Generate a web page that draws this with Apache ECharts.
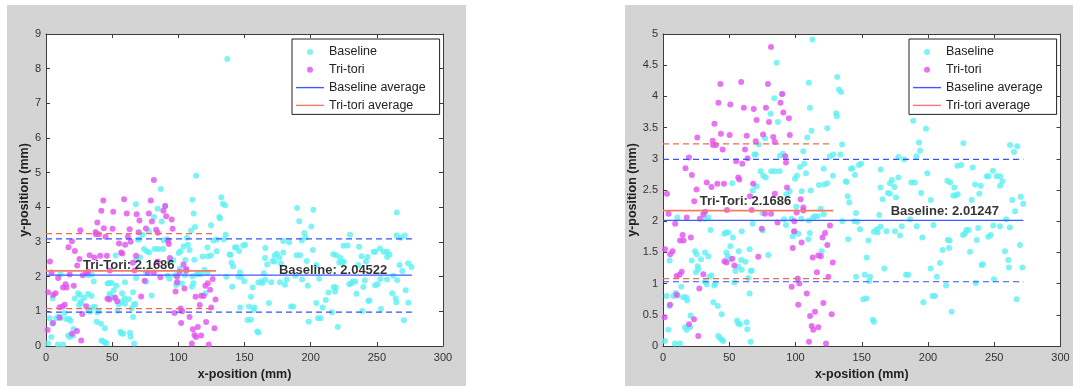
<!DOCTYPE html>
<html><head><meta charset="utf-8">
<script src="https://cdn.jsdelivr.net/npm/echarts@6/dist/echarts.min.js"></script>
<style>
html,body{margin:0;padding:0;background:#fff;}
#wrap{position:relative;width:1073px;height:386px;overflow:hidden;}
.panel{position:absolute;background:#d4d4d4;}
#c{position:absolute;left:0;top:0;width:1073px;height:386px;}
</style>
</head><body>
<div id="wrap">
<div class="panel" style="left:7px;top:5px;width:459px;height:381px;"></div>
<div class="panel" style="left:625px;top:5px;width:448px;height:381px;"></div>
<div id="c"></div>
</div>
<script>
// ---------- data ----------
const xTicks = [0, 50, 100, 150, 200, 250, 300];
const leftYTicks = [0, 1, 2, 3, 4, 5, 6, 7, 8, 9];
const rightYTicks = [0, 0.5, 1, 1.5, 2, 2.5, 3, 3.5, 4, 4.5, 5];
const legendNames = ['Baseline', 'Tri-tori', 'Baseline average', 'Tri-tori average'];

const triTori = [
[81.5,4.79],[59.0,4.23],[43.3,4.20],[79.2,4.20],[90.1,4.04],[41.8,3.90],[50.8,3.87],[61.0,3.82],[68.5,3.80],[77.7,3.82],[88.7,3.90],[90.8,3.74],[70.6,3.62],[80.0,3.59],[95.0,3.65],[38.8,3.56],[43.7,3.40],[50.3,3.38],[63.2,3.37],[75.5,3.39],[83.2,3.35],[95.7,3.38],[25.9,3.34],[37.5,3.29],[40.0,3.22],[37.7,3.22],[45.0,3.15],[70.0,3.28],[84.4,3.27],[61.9,3.15],[19.6,3.02],[55.2,2.96],[63.9,3.01],[59.8,2.92],[92.3,3.04],[92.8,2.94],[17.0,2.85],[21.8,2.74],[33.0,2.62],[41.0,2.60],[46.0,2.60],[36.6,2.55],[56.8,2.70],[57.6,2.67],[68.0,2.60],[25.3,2.51],[93.6,2.54],[3.0,2.44],[65.6,2.40],[84.4,2.44],[103.9,2.35],[23.6,2.32],[48.2,2.18],[66.9,2.18],[105.9,2.22],[105.9,2.17],[100.9,2.14],[81.5,2.12],[77.0,2.12],[31.8,2.15],[30.4,2.11],[4.2,2.12],[17.9,2.06],[27.8,2.04],[86.4,1.98],[99.1,2.00],[1.5,1.55],[9.2,1.96],[12.9,1.69],[15.5,1.69],[14.8,1.78],[21.0,1.74],[7.2,1.52],[5.4,1.47],[97.9,1.57],[99.0,1.84],[104.6,1.66],[120.4,1.74],[122.3,1.81],[126.0,1.93],[119.1,1.44],[117.2,1.45],[113.0,1.42],[124.0,1.62],[128.1,1.34],[74.5,1.88],[71.9,1.43],[52.3,1.40],[46.4,1.36],[47.9,1.34],[53.8,1.29],[14.1,1.19],[30.4,1.15],[10.3,1.12],[12.5,1.14],[124.8,1.11],[101.7,1.08],[102.9,1.00],[97.1,0.95],[27.4,0.92],[116.2,1.18],[108.5,0.84],[10.3,0.82],[5.3,0.66],[102.1,0.66],[121.0,0.69],[111.0,0.48],[114.7,0.55],[127.3,0.51],[1.2,0.46],[23.4,0.43],[19.6,0.35],[112.2,0.32],[117.2,0.30],[113.4,0.26],[26.6,0.16],[110.2,0.07],[123.0,0.04]
];

// Baseline points
const baselineRight = [
[112.8,4.91],[85.8,4.54],[110.0,4.22],[131.5,4.31],[132.8,4.11],[134.4,4.07],[84.0,3.97],[89.6,4.04],[110.9,3.82],[81.2,3.72],[86.7,3.59],[130.7,3.73],[131.1,3.68],[124.0,3.49],[112.1,3.45],[108.9,3.34],[77.0,3.33],[72.2,3.23],[135.1,3.23],
[105.9,3.12],[126.0,3.04],[128.5,3.07],[133.8,3.07],[90.5,3.08],[88.3,3.05],[68.9,3.07],[70.0,3.07],
[99.6,2.68],[101.1,2.73],[103.4,2.87],[106.6,2.92],[107.9,2.77],[121.3,2.84],[128.3,2.73],[52.3,2.61],
[73.7,2.80],[75.7,2.73],[77.5,2.70],[81.7,2.80],[84.5,2.80],[88.0,2.80],
[70.7,2.56],[67.7,2.49],[95.6,2.48],[104.7,2.48],[111.5,2.49],[117.7,2.58],[121.7,2.59],[124.0,2.61],[137.9,2.64],[138.7,2.63],[139.4,2.40],[140.6,2.30],
[93.1,2.43],[100.5,2.23],[119.0,2.20],[113.4,2.06],[114.7,2.08],[116.8,2.08],[121.3,2.11],[104.4,2.04],[110.0,2.01],[97.1,2.04],[91.3,2.03],[92.8,1.94],[135.4,2.00],
[110.8,1.81],[109.7,1.71],[119.8,1.52],[102.1,1.80],[97.9,1.76],[98.9,1.83],[79.5,1.46],[75.2,1.85],[67.7,1.96],[75.1,2.13],[65.4,1.55],[62.3,1.35],[59.0,1.38],[57.2,1.52],[59.4,1.84],[52.8,1.74],[50.8,1.60],[47.8,1.50],[48.8,1.44],[46.3,1.80],[47.5,1.82],[49.3,1.82],[54.6,1.20],[56.8,1.27],[59.4,1.22],[66.2,1.20],[67.0,1.21],[53.8,1.02],[64.4,1.09],[50.6,1.39],
[35.9,1.86],[34.2,2.06],[31.7,2.04],[10.8,2.06],[24.2,1.52],[25.4,1.47],[31.7,1.50],[34.2,1.44],[28.7,1.39],[21.7,1.37],[26.2,1.28],[26.6,1.23],[24.9,1.18],[34.9,1.11],[36.7,1.13],[31.7,1.03],[33.0,0.99],[38.7,0.97],[39.5,1.00],[13.8,0.95],[5.0,1.37],[4.9,0.64],[2.8,0.80],[7.8,0.80],[9.5,0.85],[11.0,0.81],[15.3,0.78],[17.4,0.78],[18.3,0.73],[16.6,0.30],[17.9,0.26],[20.4,0.30],[20.8,0.49],[4.0,0.26],[1.5,0.08],[9.0,0.04],[12.8,0.04],[38.0,0.70],[41.3,0.64],[44.3,0.51],[41.7,0.16],[43.0,0.13],[44.4,0.10],[45.5,0.08],[55.9,0.41],[56.8,0.36],[58.1,0.35],[63.1,0.38],[63.6,0.27],[65.4,0.84],[66.2,0.07],
[188.9,3.61],[198.5,3.48],[193.2,3.26],[194.0,3.13],[191.3,3.04],[226.7,3.25],[261.9,3.22],[267.4,3.20],[264.9,3.11],[177.6,3.03],[181.9,2.99],[177.6,2.70],[222.1,2.89],[225.1,2.90],[149.5,2.92],[147.9,2.90],[142.9,2.85],[141.9,2.84],[164.4,2.83],[199.5,2.77],[233.7,2.86],[249.0,2.81],[244.4,2.72],[245.6,2.72],[144.9,2.74],
[164.1,2.54],[171.3,2.61],[172.8,2.66],[174.6,2.55],[169.7,2.45],[171.3,2.44],[165.8,2.35],[175.8,2.38],[187.4,2.62],[190.0,2.62],[194.9,2.45],[202.1,2.34],[214.6,2.65],[216.7,2.62],[219.9,2.54],[219.0,2.41],[220.9,2.41],[222.4,2.43],[233.0,2.34],[235.5,2.59],[238.7,2.44],[239.8,2.57],[251.8,2.72],[254.4,2.72],[254.4,2.57],[256.2,2.64],[263.6,2.34],[271.9,2.28],[270.0,2.39],[265.7,2.16],[258.9,2.03],[261.8,1.90],[249.3,1.93],[254.3,1.92],[247.4,1.78],[245.5,1.75],[241.3,1.31],[240.5,1.30],[249.8,1.07],[236.0,1.01],[237.9,1.89],[236.8,1.70],[231.7,1.51],[230.8,1.86],[229.0,1.86],[227.9,1.80],[226.4,1.78],[216.4,1.69],[214.9,1.70],[211.0,1.54],[215.9,1.57],[209.0,1.33],[206.7,1.11],[213.6,0.97],[217.9,0.55],[205.3,0.80],[203.3,0.80],[196.5,0.70],[202.0,1.24],[204.1,1.94],[195.7,1.74],[191.5,1.92],[186.4,2.03],[180.2,1.92],[178.9,1.77],[175.1,1.84],[168.7,1.84],[162.0,1.82],[159.2,1.83],[161.3,1.87],[164.3,1.91],[163.2,2.10],[167.0,1.24],[183.4,1.14],[185.1,1.14],[148.7,1.87],[145.6,2.13],[144.4,2.00],[139.8,1.71],[155.0,1.69],[153.7,1.42],[145.7,1.11],[152.3,1.14],[156.2,1.11],[155.7,1.04],[151.2,0.75],[153.6,0.76],[158.3,0.42],[159.2,0.39],[146.6,1.99],[266.9,0.75],[258.1,1.52],[260.6,1.38],[261.1,1.26],[269.4,1.62],[271.2,1.26]
];

// Baseline points (includes the outliers)
const baselineLeft = [
[137.0,8.28],[67.9,4.09],[189.7,3.98],[202.0,3.93],[265.1,3.85],
[113.4,4.91],[86.7,4.53],[110.6,4.22],[132.5,4.29],[133.6,4.10],[135.3,4.06],[84.4,3.96],[90.0,4.04],[111.6,3.82],[81.6,3.72],[87.4,3.59],[131.0,3.72],[131.5,3.68],[124.7,3.48],[112.6,3.43],[109.6,3.33],[77.7,3.32],[72.8,3.21],[135.8,3.21],
[106.5,3.12],[126.6,3.04],[129.1,3.07],[134.4,3.07],[91.1,3.08],[88.9,3.05],[69.3,3.07],[70.4,3.07],
[100.2,2.68],[101.7,2.73],[104.0,2.87],[107.2,2.92],[108.5,2.77],[122.0,2.84],[129.0,2.73],[52.6,2.61],
[74.1,2.80],[76.1,2.73],[77.9,2.70],[82.1,2.80],[85.0,2.80],[88.5,2.80],
[71.1,2.56],[68.1,2.49],[96.1,2.48],[105.3,2.48],[112.1,2.49],[118.4,2.58],[122.4,2.59],[124.7,2.61],[138.7,2.64],[139.5,2.63],[140.2,2.40],[141.4,2.30],
[93.6,2.43],[101.1,2.23],[119.7,2.20],[114.0,2.06],[115.4,2.08],[117.5,2.08],[122.0,2.11],[105.0,2.04],[110.6,2.01],[97.6,2.04],[91.8,2.03],[93.3,1.94],[136.2,2.00],
[111.4,1.81],[110.3,1.71],[120.5,1.52],[102.7,1.80],[98.4,1.76],[99.5,1.83],[79.9,1.46],[75.6,1.85],[68.1,1.96],[75.5,2.13],[65.8,1.55],[62.6,1.35],[59.3,1.38],[57.5,1.52],[59.7,1.84],[53.1,1.74],[51.1,1.60],[48.0,1.50],[49.0,1.44],[46.5,1.80],[47.7,1.82],[49.6,1.82],[54.9,1.20],[57.1,1.27],[59.7,1.22],[66.6,1.20],[67.4,1.21],[54.1,1.02],[64.8,1.09],[50.9,1.39],
[36.1,1.86],[34.4,2.06],[31.9,2.04],[10.9,2.06],[24.3,1.52],[25.5,1.47],[31.9,1.50],[34.4,1.44],[28.9,1.39],[21.8,1.37],[26.3,1.28],[26.7,1.23],[25.0,1.18],[35.1,1.11],[36.9,1.13],[31.9,1.03],[33.2,0.99],[38.9,0.97],[39.7,1.00],[13.9,0.95],[5.0,1.37],[4.9,0.64],[2.8,0.80],[7.8,0.80],[9.5,0.85],[11.0,0.81],[15.4,0.78],[17.5,0.78],[18.4,0.73],[16.7,0.30],[18.0,0.26],[20.5,0.30],[20.9,0.49],[4.0,0.26],[1.5,0.08],[9.0,0.04],[12.9,0.04],[38.2,0.70],[41.5,0.64],[44.5,0.51],[41.9,0.16],[43.2,0.13],[44.6,0.10],[45.7,0.08],[56.2,0.41],[57.1,0.36],[58.4,0.35],[63.4,0.38],[63.9,0.27],[65.8,0.84],[66.6,0.07],
[191.4,3.60],[200.5,3.45],[195.2,3.26],[196.1,3.13],[193.3,3.04],[229.7,3.21],[264.9,3.19],[271.1,3.19],[268.0,3.12],[179.3,3.03],[183.7,2.99],[179.3,2.70],[224.8,2.89],[227.9,2.90],[150.6,2.92],[149.0,2.90],[143.8,2.85],[142.8,2.84],[165.8,2.83],[201.7,2.77],[236.6,2.86],[252.3,2.81],[247.6,2.72],[248.8,2.72],[145.9,2.74],
[165.5,2.54],[172.8,2.61],[174.4,2.66],[176.3,2.55],[171.2,2.45],[172.8,2.44],[167.2,2.35],[177.5,2.38],[189.3,2.62],[192.0,2.62],[197.0,2.45],[204.3,2.34],[217.1,2.65],[219.3,2.62],[222.5,2.54],[221.6,2.41],[223.5,2.41],[225.1,2.43],[235.9,2.34],[238.5,2.59],[241.8,2.44],[242.9,2.57],[255.1,2.72],[257.8,2.72],[257.8,2.57],[259.6,2.64],[267.2,2.34],[276.2,2.28],[273.7,2.39],[269.3,2.16],[262.4,2.03],[265.4,1.90],[252.6,1.93],[257.7,1.92],[250.6,1.78],[248.7,1.75],[244.4,1.31],[243.6,1.30],[253.1,1.07],[239.0,1.01],[240.9,1.89],[239.8,1.70],[234.6,1.51],[233.7,1.86],[231.9,1.86],[230.7,1.80],[229.2,1.78],[219.0,1.69],[217.4,1.70],[213.4,1.54],[218.4,1.57],[211.4,1.33],[209.0,1.11],[216.1,0.97],[220.5,0.55],[207.6,0.80],[205.6,0.80],[198.6,0.70],[204.2,1.24],[206.4,1.94],[197.8,1.74],[193.5,1.92],[188.3,2.03],[181.9,1.92],[180.6,1.77],[176.8,1.84],[170.2,1.84],[163.4,1.82],[160.5,1.83],[162.7,1.87],[165.7,1.91],[164.6,2.10],[168.5,1.24],[185.2,1.14],[186.9,1.14],[149.8,1.87],[146.6,2.13],[145.4,2.00],[140.7,1.71],[156.2,1.69],[154.9,1.42],[146.7,1.11],[153.5,1.14],[157.4,1.11],[156.9,1.04],[152.3,0.75],[154.8,0.76],[159.6,0.42],[160.5,0.39],[147.6,1.99],[270.4,0.74],[261.6,1.52],[264.2,1.38],[264.7,1.26],[271.8,1.61],[273.8,1.25]
];

// averages, ±1 std bands and the x-extent of each average line
const baselineAvgLeft = 2.04522;
const baselineAvgRight = 2.01247;
const triToriAvg = 2.1686;
const baselineBandLeft = [0.98, 3.09];
const baselineBandRight = [1.03, 2.99];
const triToriBand = [1.08, 3.24];
const baselineExtentLeft = [0, 276.5];
const baselineExtentRight = [0, 272];
const triToriExtent = [0, 128.5];
// anchors (data coords) of the annotation texts
const triToriLabelAt = { left: [28, 2.33], right: [27.7, 2.32] };
const baselineLabelAt = { left: [176, 2.18], right: [171.8, 2.15] };

// ---------- styles ----------
const FONT = '"Liberation Sans", Arial, Helvetica, sans-serif';
const CYAN = '#5cf0f4';
const MAGENTA = '#e250ef';
const BLUE = '#3d5bff';
const BLUE_DASH = '#3552ff';
const RED = '#f27c68';
const RED_DASH = '#ef6a55';
const AXIS = '#3c3c3c';
const LINE_ICON = 'path://M0,0 L40,0 L40,2 L0,2 Z';

function axisPair(gridIndex, kind, ticks, nameGap) {
  const min = ticks[0], max = ticks[ticks.length - 1], step = ticks[1] - ticks[0];
  const base = {
    gridIndex, type: 'value', min, max, interval: step,
    axisLine: { show: true, onZero: false, lineStyle: { color: AXIS, width: 1 } },
    axisTick: { show: true, inside: true, length: 4, lineStyle: { color: AXIS, width: 1 } },
    splitLine: { show: false }
  };
  const main = Object.assign({}, base, {
    position: kind === 'x' ? 'bottom' : 'left',
    axisLabel: { show: true, color: '#333', fontSize: 11, fontFamily: FONT, margin: kind === 'x' ? 6 : 5,
                 showMinLabel: true, showMaxLabel: true },
    name: kind === 'x' ? 'x-position (mm)' : 'y-position (mm)',
    nameLocation: 'middle', nameGap,
    nameTextStyle: { fontWeight: 'bold', fontSize: 12.5, color: '#222', fontFamily: FONT }
  });
  const mirror = Object.assign({}, base, {
    position: kind === 'x' ? 'top' : 'right',
    axisLabel: { show: false }
  });
  return [main, mirror];
}

function hline(name, xi, yi, extent, y, color, dashed, width) {
  return {
    name, type: 'line', xAxisIndex: xi, yAxisIndex: yi, symbol: 'none', showSymbol: false, silent: true,
    data: [[extent[0], y], [extent[1], y]], z: 3, animation: false,
    itemStyle: { color },
    lineStyle: { color, width, type: dashed ? [6, 4] : 'solid' }
  };
}

function seriesFor(side, xi, yi, baseline, bAvg, bBand, bExt) {
  return [
    { name: 'Baseline', type: 'scatter', xAxisIndex: xi, yAxisIndex: yi, data: baseline,
      symbolSize: 6, itemStyle: { color: CYAN }, z: 2, animation: false, clip: true },
    { name: 'Tri-tori', type: 'scatter', xAxisIndex: xi, yAxisIndex: yi, data: triTori,
      symbolSize: 6, itemStyle: { color: MAGENTA }, z: 2, animation: false, clip: true },
    hline('Baseline average', xi, yi, bExt, bAvg, BLUE, false, 1.3),
    hline('Tri-tori average', xi, yi, triToriExtent, triToriAvg, RED, false, 1.8),
    hline('b-hi', xi, yi, bExt, bBand[1], BLUE_DASH, true, 1.2),
    hline('b-lo', xi, yi, bExt, bBand[0], BLUE_DASH, true, 1.2),
    hline('t-hi', xi, yi, triToriExtent, triToriBand[1], RED_DASH, true, 1.2),
    hline('t-lo', xi, yi, triToriExtent, triToriBand[0], RED_DASH, true, 1.2),
    { name: 'labels', type: 'scatter', xAxisIndex: xi, yAxisIndex: yi, symbolSize: 0, silent: true, z: 5,
      animation: false,
      data: [
        { value: triToriLabelAt[side], label: { formatter: 'Tri-Tori: ' + triToriAvg } },
        { value: baselineLabelAt[side], label: { formatter: 'Baseline: ' + bAvg } }
      ],
      label: { show: true, position: 'right', distance: 0, color: '#000', fontWeight: 'bold',
               fontSize: 13, fontFamily: FONT } }
  ];
}

function legendAt(left) {
  return {
    data: [
      { name: legendNames[0], icon: 'circle', itemStyle: { color: CYAN } },
      { name: legendNames[1], icon: 'circle', itemStyle: { color: MAGENTA } },
      { name: legendNames[2], icon: LINE_ICON, itemStyle: { color: BLUE } },
      { name: legendNames[3], icon: LINE_ICON, itemStyle: { color: RED } }
    ],
    orient: 'vertical', left, top: 39,
    backgroundColor: '#fff', borderColor: '#222', borderWidth: 1, borderRadius: 0,
    padding: [6, 14, 2, 4], itemWidth: 28, itemHeight: 6, itemGap: 3.8, itemTextGap: 1,
    selectedMode: false,
    textStyle: { fontSize: 12.5, color: '#222', fontFamily: FONT, lineHeight: 14 }
  };
}

const [x0, x0m] = axisPair(0, 'x', xTicks, 22);
const [y0, y0m] = axisPair(0, 'y', leftYTicks, 15);
const [x1, x1m] = axisPair(1, 'x', xTicks, 22);
const [y1, y1m] = axisPair(1, 'y', rightYTicks, 24);

const option = {
  backgroundColor: 'transparent',
  animation: false,
  textStyle: { fontFamily: FONT },
  grid: [
    { left: 46, top: 34, width: 397, height: 313, show: true, backgroundColor: '#fff', borderWidth: 0 },
    { left: 663, top: 34, width: 397.5, height: 313, show: true, backgroundColor: '#fff', borderWidth: 0 }
  ],
  xAxis: [x0, x0m, x1, x1m],
  yAxis: [y0, y0m, y1, y1m],
  legend: [legendAt(292), legendAt(909)],
  series: [].concat(
    seriesFor('left', 0, 0, baselineLeft, baselineAvgLeft, baselineBandLeft, baselineExtentLeft),
    seriesFor('right', 2, 2, baselineRight, baselineAvgRight, baselineBandRight, baselineExtentRight)
  )
};

const chart = echarts.init(document.getElementById('c'), null, { renderer: 'canvas' });
chart.setOption(option);
</script>
</body></html>
